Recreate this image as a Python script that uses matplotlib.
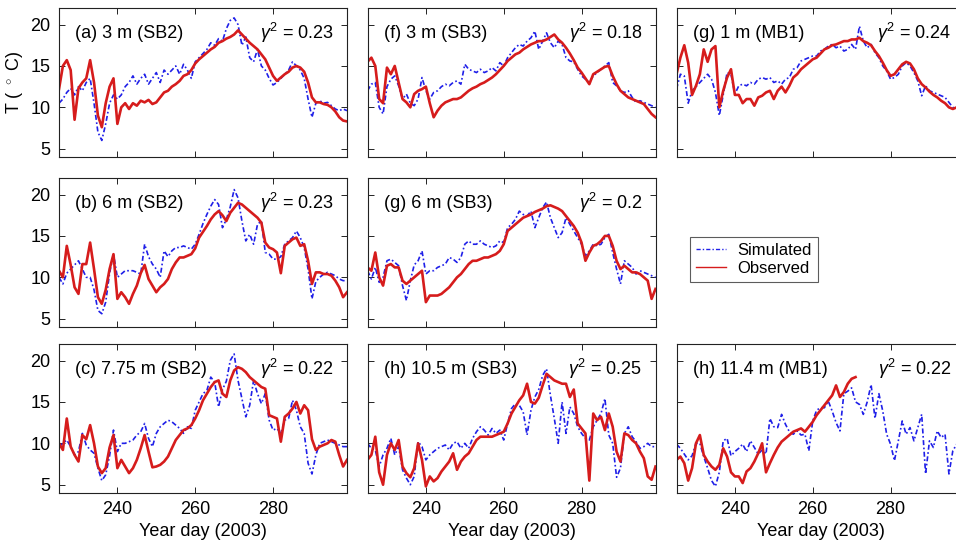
import numpy as np
import matplotlib
matplotlib.use("Agg")
import matplotlib.pyplot as plt

plt.rcParams['font.family'] = ['Liberation Sans', 'DejaVu Sans']
plt.rcParams['mathtext.fontset'] = 'custom'
plt.rcParams['mathtext.rm'] = 'Liberation Sans'
plt.rcParams['mathtext.it'] = 'Liberation Sans:italic'

# year days sampled (one value read per day)
DAYS = np.arange(225, 300)

# ---- 3 m (SB2) ----
obs_a = [12.2, 15.0, 15.7, 14.5, 8.5, 12.3, 13.0, 13.5, 15.7, 13.0,
         9.0, 7.6, 10.5, 12.5, 13.5, 8.0, 10.0, 10.5, 9.8, 10.5,
         10.2, 10.8, 10.6, 10.9, 10.4, 10.6, 11.2, 11.8, 12.0, 12.5,
         12.8, 13.2, 13.8, 14.0, 14.5, 15.3, 15.8, 16.2, 16.6, 17.0,
         17.3, 17.8, 18.0, 18.3, 18.5, 18.8, 19.3, 18.8, 18.3, 17.8,
         17.4, 17.0, 16.4, 15.8, 14.8, 13.8, 13.2, 13.6, 14.0, 14.3,
         14.8, 15.0, 14.8, 14.3, 13.0, 11.2, 10.6, 10.6, 10.4, 10.3,
         10.0, 9.5, 8.8, 8.4, 8.3]
sim_a = [10.5, 11.0, 11.8, 12.3, 11.5, 12.5, 12.0, 13.0, 13.5, 10.5,
         7.0, 6.0, 8.0, 10.5, 11.5, 11.0, 11.5, 12.5, 13.0, 13.8,
         12.8, 13.5, 14.0, 12.8, 13.5, 14.2, 13.0, 14.5, 14.0, 14.5,
         15.0, 14.0, 15.2, 14.5, 13.5, 15.5, 16.0, 16.5, 17.0, 17.8,
         17.5, 18.3, 18.0, 19.5, 20.5, 20.8, 20.0, 17.5, 18.5, 16.0,
         15.5, 17.0, 15.0, 14.5, 13.5, 12.7, 13.0, 13.5, 14.0, 14.5,
         15.5, 15.0, 14.5, 13.5, 11.0, 8.8, 10.5, 10.8, 10.5, 10.6,
         10.2, 9.8, 9.6, 9.8, 9.6]

# ---- 3 m (SB3) ----
obs_f = [15.5, 16.0, 15.0, 11.0, 10.5, 14.8, 14.0, 15.0, 13.0, 11.0,
         10.6, 10.0, 11.6, 12.0, 12.2, 12.5, 10.5, 8.8, 9.6, 10.2,
         10.6, 10.8, 11.0, 11.0, 11.2, 11.6, 12.0, 12.3, 12.5, 12.8,
         13.0, 13.3, 13.6, 14.0, 14.5, 15.0, 15.6, 16.0, 16.4, 16.6,
         17.0, 17.3, 17.6, 17.8, 18.0, 18.0, 18.2, 18.5, 18.8, 18.2,
         17.8, 17.2, 16.5, 15.7, 14.8, 14.2, 13.5, 12.8, 14.0, 14.3,
         14.6, 14.9, 15.0, 13.8, 12.8, 12.0, 11.6, 11.2, 11.0, 10.8,
         10.6, 10.4, 9.8, 9.2, 8.8]
sim_f = [12.0, 12.8, 13.0, 10.0, 9.2, 12.5, 13.4, 13.8, 12.6, 11.0,
         11.6, 10.5, 10.2, 11.0, 13.6, 12.0, 11.0, 11.8, 12.0, 12.5,
         12.8, 12.6, 13.0, 13.2, 12.8, 15.2, 14.6, 14.4, 14.2, 14.6,
         14.2, 14.4, 14.8, 14.4, 15.4, 15.0, 16.0, 16.6, 17.2, 17.6,
         17.4, 18.0, 18.4, 19.2, 17.0, 18.0, 19.0, 17.8, 17.2, 18.0,
         17.6, 16.0, 15.6, 15.5, 14.6, 13.8, 13.4, 13.0, 13.8, 14.2,
         14.6, 15.0, 15.4, 13.0, 12.6, 12.0, 11.8, 12.0, 11.2, 10.6,
         10.8, 10.6, 10.4, 10.2, 10.0]

# ---- 1 m (MB1), days 225-297 ----
obs_g1 = [14.0, 16.0, 17.5, 15.4, 11.5, 12.6, 14.0, 17.0, 15.5, 17.0,
          17.4, 10.0, 12.0, 13.6, 14.6, 11.5, 11.5, 10.5, 11.0, 11.0,
          10.2, 11.2, 11.4, 11.8, 12.0, 11.0, 12.0, 12.5, 11.8, 12.6,
          13.6, 14.0, 14.6, 15.0, 15.4, 15.8, 16.0, 16.5, 17.0, 17.2,
          17.5, 17.6, 17.8, 18.0, 18.0, 18.2, 18.2, 18.4, 18.0, 17.8,
          17.5, 16.8, 16.2, 15.4, 14.5, 13.8, 14.0, 14.6, 15.2, 15.5,
          15.3, 14.6, 13.5, 12.8, 12.4, 11.9, 11.5, 11.2, 10.8, 10.5,
          10.0, 9.8, 10.0]
sim_g1 = [12.2, 14.0, 13.8, 10.5, 12.0, 12.5, 13.0, 13.5, 14.0, 13.4,
          11.8, 9.0, 11.5, 14.2, 14.0, 11.6, 12.6, 12.8, 12.6, 13.0,
          12.8, 13.4, 13.6, 13.4, 13.6, 13.0, 13.2, 12.8, 13.4, 13.6,
          14.6, 14.8, 15.6, 15.8, 16.0, 16.2, 16.2, 16.8, 17.0, 17.4,
          17.6, 17.2, 17.4, 16.8, 17.0, 17.6, 17.0, 19.8, 18.0, 17.2,
          17.6, 16.6, 16.0, 15.0, 14.4, 13.4, 13.6, 14.0, 15.0, 15.4,
          15.0, 14.2, 13.2, 11.4, 12.6, 12.0, 11.8, 11.6, 11.4, 11.2,
          10.6, 10.0, 9.8]

# ---- 6 m (SB2) ----
obs_b = [10.8, 10.0, 13.8, 11.5, 8.8, 8.0, 11.6, 11.6, 14.2, 11.0,
         7.6, 6.8, 8.5, 11.0, 12.8, 7.4, 8.2, 7.6, 6.8, 8.0,
         9.0, 10.5, 11.5, 9.8, 9.0, 8.2, 8.8, 9.2, 9.8, 11.0,
         11.8, 12.4, 12.4, 12.6, 12.8, 13.5, 14.8, 15.5, 16.2, 17.0,
         17.6, 18.0, 17.5, 16.8, 17.8, 18.4, 19.0, 18.8, 18.4, 18.0,
         17.6, 17.2, 16.6, 14.2, 13.6, 13.4, 13.0, 10.5, 13.8, 14.2,
         14.6, 14.8, 13.8, 14.0, 12.0, 9.2, 10.6, 10.6, 10.4, 10.4,
         10.2, 9.6, 8.8, 7.6, 8.2]
sim_b = [10.0, 9.2, 10.5, 11.0, 11.5, 12.0, 11.0, 10.0, 10.0, 8.5,
         6.0, 5.6, 7.0, 10.5, 12.8, 10.0, 10.4, 10.8, 10.8, 10.8,
         10.6, 10.4, 14.0, 12.5, 11.6, 11.0, 10.0, 13.2, 12.5, 13.2,
         13.6, 13.6, 13.8, 13.6, 13.4, 14.0, 15.2, 16.5, 17.6, 18.6,
         19.4, 18.8, 16.0, 17.0, 18.5, 20.6, 19.6, 16.8, 14.4, 15.2,
         14.0, 16.4, 16.8, 13.0, 12.8, 12.2, 12.2, 12.5, 14.0, 14.4,
         14.8, 15.6, 14.8, 13.6, 11.0, 7.4, 9.5, 10.0, 10.4, 10.6,
         10.4, 10.2, 9.8, 9.6, 9.6]

# ---- 6 m (SB3) ----
obs_g6 = [11.2, 10.8, 13.0, 10.0, 9.0, 11.4, 11.6, 11.2, 11.2, 9.6,
          9.2, 9.6, 10.0, 10.4, 10.8, 7.0, 7.8, 7.8, 7.8, 8.0,
          8.4, 8.8, 9.4, 10.0, 10.4, 11.0, 11.6, 12.0, 12.0, 12.2,
          12.4, 12.4, 12.6, 12.8, 13.2, 14.0, 15.6, 16.0, 16.4, 16.8,
          17.2, 17.4, 17.6, 17.9, 18.1, 18.3, 18.6, 18.7, 18.5, 18.3,
          18.0, 17.4, 16.8, 16.2, 15.4, 14.2, 12.0, 13.0, 13.8, 14.0,
          14.4, 15.0, 15.0, 13.8, 12.0, 11.0, 11.4, 11.0, 10.6, 10.6,
          10.4, 10.0, 9.6, 7.4, 8.6]
sim_g6 = [10.8, 9.8, 11.2, 9.4, 10.0, 12.0, 12.2, 11.8, 11.4, 9.0,
          7.2, 9.6, 11.5, 12.0, 13.2, 10.4, 10.8, 10.8, 11.2, 11.4,
          11.6, 12.4, 12.2, 11.8, 12.4, 14.0, 14.4, 14.0, 14.0, 14.4,
          14.0, 13.8, 13.6, 13.8, 14.4, 14.2, 16.0, 16.4, 17.0, 18.0,
          17.6, 17.4, 18.0, 16.0, 17.2, 18.4, 19.1, 17.2, 16.0, 14.8,
          15.4, 17.2, 16.4, 15.6, 14.8, 14.0, 12.6, 13.2, 14.0, 13.8,
          14.0, 14.8, 15.2, 13.0, 11.0, 9.2, 12.0, 11.6, 11.2, 10.4,
          10.8, 10.6, 10.4, 10.2, 10.0]

# ---- 7.75 m (SB2) ----
obs_c = [10.0, 9.2, 13.0, 9.6, 8.6, 7.8, 11.0, 10.5, 12.2, 10.0,
         7.2, 6.4, 7.0, 9.5, 11.0, 7.0, 8.0, 7.2, 6.4, 7.0,
         8.0, 9.4, 11.0, 9.0, 7.1, 7.2, 7.4, 7.8, 8.4, 9.4,
         10.4, 11.0, 11.6, 11.8, 12.2, 13.0, 14.0, 15.2, 16.0, 16.8,
         17.4, 17.6, 16.0, 15.6, 17.6, 18.8, 19.2, 19.0, 18.6, 18.0,
         17.6, 17.2, 16.8, 16.6, 13.4, 13.2, 13.0, 10.2, 13.2, 13.6,
         14.2, 15.0, 13.6, 14.6, 14.0, 10.5, 9.2, 9.6, 9.8, 10.0,
         10.4, 10.2, 8.6, 7.2, 8.0]
sim_c = [9.6, 10.0, 10.4, 9.6, 8.6, 9.0, 11.2, 9.8, 9.2, 8.8,
         7.0, 5.5, 6.2, 8.5, 11.6, 9.0, 10.0, 10.0, 10.2, 10.4,
         11.0, 11.4, 12.4, 10.6, 9.6, 11.2, 12.0, 12.4, 12.8, 12.6,
         12.2, 11.8, 11.2, 12.0, 11.8, 14.0, 15.0, 16.0, 16.4, 18.0,
         17.4, 14.4, 16.5, 17.5, 20.0, 20.8, 17.6, 15.4, 13.2, 14.6,
         17.6, 16.0, 14.8, 16.0, 12.8, 11.6, 11.8, 11.2, 12.8, 13.0,
         15.2, 14.0, 12.0, 11.2, 7.6, 6.3, 8.6, 10.0, 10.2, 10.4,
         10.2, 10.0, 9.8, 9.6, 9.6]

# ---- 10.5 m (SB3) ----
obs_h10 = [8.0, 8.6, 10.8, 6.5, 5.0, 8.6, 10.0, 9.2, 10.4, 7.2,
           6.4, 5.9, 7.0, 10.0, 8.0, 4.8, 6.0, 5.4, 5.8, 6.6,
           7.2, 7.8, 8.8, 6.8, 7.8, 8.4, 8.8, 9.6, 10.4, 10.8,
           10.8, 10.8, 10.8, 11.0, 11.2, 11.4, 12.4, 13.6, 14.4, 15.2,
           15.8, 17.2, 15.0, 14.8, 15.5, 17.0, 18.4, 18.0, 17.6, 17.4,
           17.2, 17.2, 15.6, 16.5, 12.4, 11.8, 11.2, 5.5, 13.6, 12.8,
           13.2, 11.6, 13.6, 12.0, 9.0, 7.8, 11.2, 11.0, 10.4, 10.0,
           9.0, 8.2, 6.0, 5.6, 7.2]
sim_h10 = [10.0, 9.4, 9.2, 7.2, 8.6, 9.4, 10.6, 8.6, 9.6, 6.8,
           5.8, 5.0, 6.0, 10.2, 9.6, 8.0, 8.6, 9.0, 9.4, 9.6,
           9.8, 9.2, 10.0, 10.2, 9.4, 10.0, 9.4, 10.6, 11.4, 12.0,
           11.6, 11.0, 11.8, 11.2, 11.6, 10.4, 12.4, 14.2, 14.8, 14.6,
           13.8, 11.0, 14.0, 15.6, 16.5, 18.2, 19.0, 15.8, 13.0, 10.0,
           15.0, 11.2, 14.4, 13.6, 12.0, 11.2, 10.6, 10.4, 12.0, 12.8,
           13.6, 15.4, 11.0, 10.0, 5.9, 7.0, 11.2, 12.0, 10.8, 10.2,
           9.4, 9.6, 10.0, 9.6, 9.6]

# ---- 11.4 m (MB1): observed days 225-271, simulated 225-297 ----
obs_h11 = [8.0, 8.4, 7.6, 5.5, 7.0, 10.0, 11.0, 8.6, 7.8, 7.2,
           6.8, 7.4, 9.4, 8.4, 6.5, 6.0, 6.0, 5.2, 6.6, 7.0,
           7.8, 8.8, 10.0, 6.5, 7.6, 8.6, 9.5, 10.2, 10.6, 11.0,
           11.4, 11.6, 11.8, 11.4, 12.0, 12.6, 13.4, 14.0, 14.6, 15.2,
           15.8, 17.0, 15.6, 16.2, 17.2, 17.8, 18.0]
sim_h11 = [9.9, 9.4, 8.7, 8.0, 8.5, 10.0, 10.0, 8.4, 7.0, 5.5,
           4.8, 6.5, 10.3, 10.6, 8.5, 9.0, 9.4, 9.9, 9.0, 10.3,
           9.5, 8.7, 9.2, 8.7, 13.0, 12.0, 11.9, 13.5, 12.3, 11.4,
           11.1, 11.5, 11.0, 11.1, 9.1, 12.7, 14.0, 14.3, 14.3, 15.1,
           13.9, 12.5, 11.5, 16.0, 16.3, 16.7, 15.0, 14.7, 13.5, 15.0,
           17.1, 13.0, 16.0, 13.9, 11.1, 9.9, 7.9, 10.3, 12.7, 11.1,
           11.9, 10.3, 11.9, 13.5, 6.3, 10.3, 9.5, 11.5, 10.7, 11.1,
           6.3, 9.1, 9.9]

PANELS = [
    # (row, col, label, gamma^2, observed, simulated)
    (0, 0, "(a) 3 m (SB2)", "0.23", obs_a, sim_a),
    (0, 1, "(f) 3 m (SB3)", "0.18", obs_f, sim_f),
    (0, 2, "(g) 1 m (MB1)", "0.24", obs_g1, sim_g1),
    (1, 0, "(b) 6 m (SB2)", "0.23", obs_b, sim_b),
    (1, 1, "(g) 6 m (SB3)", "0.2", obs_g6, sim_g6),
    (2, 0, "(c) 7.75 m (SB2)", "0.22", obs_c, sim_c),
    (2, 1, "(h) 10.5 m (SB3)", "0.25", obs_h10, sim_h10),
    (2, 2, "(h) 11.4 m (MB1)", "0.22", obs_h11, sim_h11),
]

W, H = 956, 541
COL_LEFT = [59, 367.5, 676.5]
ROW_TOP = [8, 178, 344]
AX_W, AX_H = 288, 149
FS = 13
RED = '#d61c1c'
BLUE = '#1f1fe8'

fig = plt.figure(figsize=(W / 100, H / 100), dpi=100)

handles = None
for row, col, label, g2, obs, sim in PANELS:
    rect = [COL_LEFT[col] / W, 1 - (ROW_TOP[row] + AX_H) / H, AX_W / W, AX_H / H]
    ax = fig.add_axes(rect)
    hs, = ax.plot(DAYS[:len(sim)], sim, color=BLUE, lw=1.2,
                  linestyle=(0, (3, 1.5, 1, 1.5)), label='Simulated')
    ho, = ax.plot(DAYS[:len(obs)], obs, color=RED, lw=1.9,
                  label='Observed')
    handles = [hs, ho]

    ax.set_xlim(225, 299)
    ax.set_ylim(4, 22)
    ax.set_xticks([240, 260, 280])
    ax.set_yticks([5, 10, 15, 20])
    ax.tick_params(direction='in', top=True, right=True, length=4,
                   width=0.6, labelsize=FS, pad=6)
    for s in ax.spines.values():
        s.set_linewidth(0.8)
        s.set_color('#222222')

    if col != 0:
        ax.set_yticklabels([])
    if row != 2:
        ax.set_xticklabels([])
    else:
        ax.set_xlabel("Year day (2003)", fontsize=FS, labelpad=3)
    if row == 0 and col == 0:
        ax.set_ylabel(r"T ( $^\circ$ C)", fontsize=FS, labelpad=4)

    ax.text(0.056, 0.83, label, transform=ax.transAxes, fontsize=FS,
            ha='left', va='center')
    ax.text(0.955, 0.83, r"$\gamma^2$ = " + g2, transform=ax.transAxes,
            fontsize=FS, ha='right', va='center')

leg = fig.legend(handles, ['Simulated', 'Observed'], loc='upper left',
                 bbox_to_anchor=(690 / W, 1 - 237 / H), fontsize=12,
                 frameon=True, fancybox=False, borderaxespad=0,
                 borderpad=0.35, handlelength=1.8, handletextpad=0.7,
                 labelspacing=0.2)
leg.get_frame().set_edgecolor('#333333')
leg.get_frame().set_linewidth(0.8)
# legend sample lines drawn thinner, as in the reference
for ln in leg.get_lines():
    ln.set_linewidth(1.0)

fig.savefig("out.png", dpi=100)
